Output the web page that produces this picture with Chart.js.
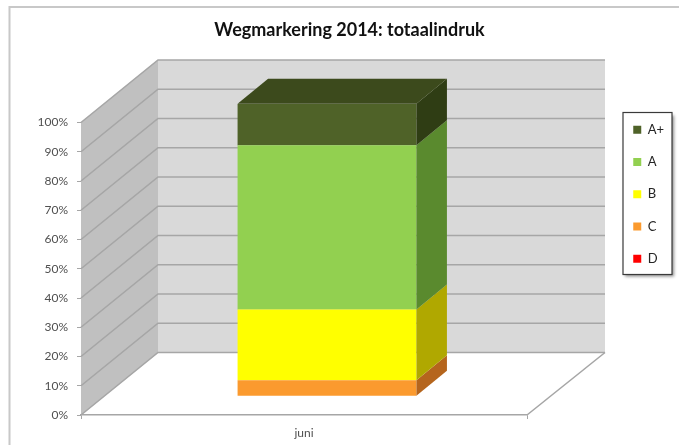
<!DOCTYPE html>
<html><head><meta charset="utf-8">
<style>html,body{margin:0;padding:0;background:#fff}#w{width:679px;height:445px;position:relative}</style>
<script src="https://cdn.jsdelivr.net/npm/chart.js@4/dist/chart.umd.min.js"></script>
</head><body><div id="w"><canvas id="c" width="679" height="445"></canvas></div>
<script>
const titleText = 'Wegmarkering 2014: totaalindruk';
const categories = ['juni'];
const seriesD = [0];
const seriesC = [5.5];
const seriesB = [24.2];
const seriesA = [56.1];
const seriesAPlus = [14.2];
const tickValues = [0,10,20,30,40,50,60,70,80,90,100];

const FONT = 'Lato, Carlito, "Open Sans", sans-serif';
// oblique projection constants
const WALL = {dx:77, dy:-62.5};
const BAR = {shiftX:23, shiftY:-18.7, dx:30.5, dy:-25};

const sideColors = {'D':'#b00000','C':'#b5651d','B':'#b0a800','A':'#5a8a2e','A+':'#2f3d14'};
const topColor = '#3c4a1c';

const threeD = {
  id:'threeD',
  beforeLayout(chart){
    const lg = chart.legend;
    if (lg && !lg._wrapped){
      const f = lg.fit.bind(lg);
      lg.fit = function(){ f(); this.width = 152; };
      lg._wrapped = true;
    }
  },
  afterLayout(chart){
    const lg = chart.legend, w = lg.width, h = lg.height;
    lg.left = 614; lg.right = 614+w; lg.top = 104; lg.bottom = 104+h;
    lg.adjustHitBoxes && lg.adjustHitBoxes();
  },
  beforeDraw(chart){
    const {ctx} = chart;
    ctx.save();
    ctx.strokeStyle='#c8c8c8';ctx.lineWidth=2;
    ctx.beginPath();ctx.moveTo(9.5,445);ctx.lineTo(9.5,7);ctx.lineTo(679,7);ctx.stroke();
    ctx.shadowColor='rgba(0,0,0,0.45)';ctx.shadowBlur=3;ctx.shadowOffsetX=2;ctx.shadowOffsetY=2;
    ctx.fillStyle='#fff';ctx.fillRect(623,112.5,49,162);
    ctx.shadowColor='transparent';
    ctx.strokeStyle='#3a3a3a';ctx.lineWidth=1.2;ctx.strokeRect(623,112.5,49,162);
    ctx.restore();
  },
  beforeDatasetsDraw(chart){
    const {ctx, scales:{y}, chartArea:a} = chart;
    const y0 = y.getPixelForValue(0), y1 = y.getPixelForValue(100);
    const bx = a.left+WALL.dx, rx = 605;
    ctx.save();
    ctx.fillStyle = '#d9d9d9';
    ctx.fillRect(bx, y1+WALL.dy, rx-bx, y0-y1);
    ctx.fillStyle = '#c0c0c0';
    ctx.beginPath();
    ctx.moveTo(a.left,y0);ctx.lineTo(a.left,y1);ctx.lineTo(bx,y1+WALL.dy);ctx.lineTo(bx,y0+WALL.dy);
    ctx.closePath();ctx.fill();
    ctx.strokeStyle = '#a6a6a6';ctx.lineWidth = 1.6;
    tickValues.forEach(v=>{
      const p = y.getPixelForValue(v);
      ctx.beginPath();
      ctx.moveTo(a.left,p);ctx.lineTo(bx,p+WALL.dy);ctx.lineTo(rx,p+WALL.dy);
      ctx.stroke();
    });
    ctx.beginPath();
    ctx.moveTo(a.right,y0);ctx.lineTo(rx,y0+WALL.dy);
    ctx.stroke();
    ctx.restore();
    ctx.save();
    ctx.translate(BAR.shiftX,BAR.shiftY);
  },
  afterDatasetsDraw(chart){
    const {ctx} = chart;
    let topEl = null;
    chart.data.datasets.forEach((ds,i)=>{
      const el = chart.getDatasetMeta(i).data[0];
      const top = el.y, base = el.base, r = el.x+el.width/2, l = el.x-el.width/2;
      if (Math.abs(base-top)<0.01) return;
      ctx.fillStyle = sideColors[ds.label];
      ctx.beginPath();
      ctx.moveTo(r,base);ctx.lineTo(r,top);ctx.lineTo(r+BAR.dx,top+BAR.dy);ctx.lineTo(r+BAR.dx,base+BAR.dy);
      ctx.closePath();ctx.fill();
      topEl = {top,r,l};
    });
    if (topEl){
      ctx.fillStyle = topColor;
      ctx.beginPath();
      ctx.moveTo(topEl.l,topEl.top);ctx.lineTo(topEl.r,topEl.top);
      ctx.lineTo(topEl.r+BAR.dx,topEl.top+BAR.dy);ctx.lineTo(topEl.l+BAR.dx,topEl.top+BAR.dy);
      ctx.closePath();ctx.fill();
    }
    ctx.restore();
  }
};

new Chart(document.getElementById('c'),{
  type:'bar',
  data:{labels:categories,datasets:[
    {label:'D',data:seriesD,backgroundColor:'#ff0000'},
    {label:'C',data:seriesC,backgroundColor:'#fb9a2e'},
    {label:'B',data:seriesB,backgroundColor:'#ffff00'},
    {label:'A',data:seriesA,backgroundColor:'#92d050'},
    {label:'A+',data:seriesAPlus,backgroundColor:'#4f6228'}
  ]},
  plugins:[threeD],
  options:{
    responsive:false,animation:false,
    layout:{padding:{left:20,top:0,right:0,bottom:0}},
    datasets:{bar:{barPercentage:0.401,categoryPercentage:1}},
    scales:{
      x:{stacked:true,
         afterFit(s){s.height=445-415;},
         grid:{offset:true,drawOnChartArea:false,drawTicks:true,tickLength:4,color:'#a6a6a6'},
         border:{color:'#a6a6a6',width:1.5},
         ticks:{color:'#505050',font:{family:FONT,size:12},padding:7}},
      y:{stacked:true,min:0,max:100,
         afterFit(s){s.width=61;},
         afterBuildTicks(s){s.ticks=tickValues.map(v=>({value:v}));},
         grid:{drawOnChartArea:false,drawTicks:true,tickLength:4,color:'#a6a6a6'},
         border:{display:false},
         ticks:{color:'#505050',font:{family:FONT,size:12},padding:9,callback:v=>v+'%'}}
    },
    plugins:{
      tooltip:{enabled:false},
      title:{display:true,text:titleText,color:'#111111',font:{family:FONT,size:18,weight:'bold'},padding:{top:19.2,bottom:81.7},position:'top',align:'center'},
      legend:{position:'right',align:'start',reverse:true,
        labels:{boxWidth:8,boxHeight:8,padding:19.25,color:'#262626',font:{family:FONT,size:13}}}
    }
  }
});
</script></body></html>
